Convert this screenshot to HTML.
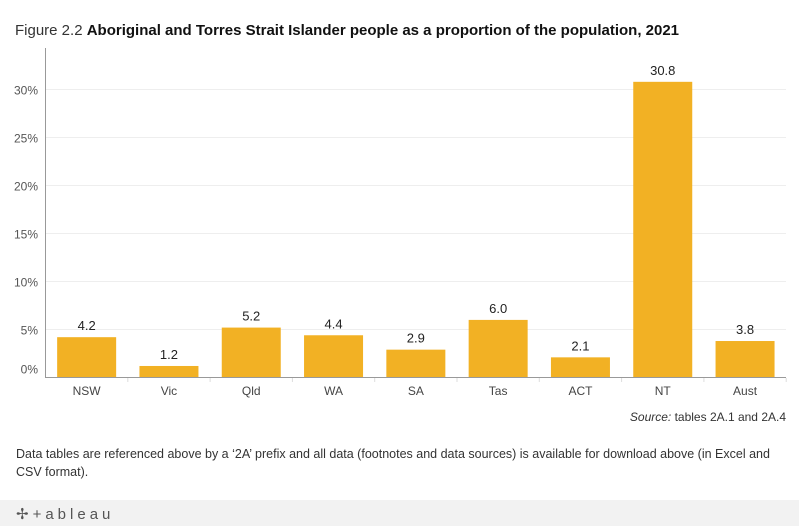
<!DOCTYPE html>
<html><head><meta charset="utf-8"><style>
body{margin:0;width:799px;height:526px;overflow:hidden;background:#fff;font-family:"Liberation Sans",sans-serif;}
svg{position:absolute;left:0;top:0}
</style></head><body>
<svg width="799" height="526">
<text x="15" y="35" font-size="15" fill="#333">Figure 2.2 <tspan fill="#111" font-weight="bold">Aboriginal and Torres Strait Islander people as a proportion of the population, 2021</tspan></text>
<g id="grid"></g>
<g id="bars"></g>
<line x1="45.5" y1="48" x2="45.5" y2="378" stroke="#999"/>
<line x1="45" y1="377.5" x2="786" y2="377.5" stroke="#999"/>
<text x="786" y="421" font-size="12" fill="#333" text-anchor="end"><tspan font-style="italic">Source:</tspan> tables 2A.1 and 2A.4</text>
<text x="16" y="458" font-size="12.5" fill="#333">Data tables are referenced above by a ‘2A’ prefix and all data (footnotes and data sources) is available for download above (in Excel and</text>
<text x="16" y="476" font-size="12.5" fill="#333">CSV format).</text>
<rect x="0" y="500" width="799" height="26" fill="#f2f2f2"/>
<text x="16" y="519" font-size="15" fill="#555" letter-spacing="4">✢+ableau</text>
</svg>
<script>
const categories=["NSW","Vic","Qld","WA","SA","Tas","ACT","NT","Aust"];
const values=[4.2,1.2,5.2,4.4,2.9,6.0,2.1,30.8,3.8];
const tickValues=[0,5,10,15,20,25,30];
const tickLabels=["0%","5%","10%","15%","20%","25%","30%"];
const NS="http://www.w3.org/2000/svg";
const y0=377.5,pxPer=9.6,x0=45.5,band=82.3,bw=59;
const yS=v=>y0-v*pxPer;
const xS=i=>x0+i*band;
const grid=document.getElementById('grid'),bars=document.getElementById('bars');
function mk(tag,attrs,parent){const e=document.createElementNS(NS,tag);for(const k in attrs)e.setAttribute(k,attrs[k]);parent.appendChild(e);return e;}
tickValues.forEach((t,i)=>{
 const y=yS(t);
 if(t>0){const l=mk('line',{x1:46,x2:786,y1:y,y2:y,stroke:'#eee'},grid);
 
 }
 const tx=mk('text',{x:38,y:(t===0?y-4:y+5),'font-size':12,fill:'#555','text-anchor':'end'},grid);
 tx.textContent=tickLabels[i];
 
 
});
categories.forEach((c,i)=>{
 const x=xS(i)+(band-bw)/2, v=values[i];
 const r=mk('rect',{x:x,y:yS(v),width:bw,height:v*pxPer,fill:'#f2b124'},bars);
 
 
 const lb=mk('text',{x:x+bw/2,y:yS(v)-7,'font-size':13,fill:'#222','text-anchor':'middle'},bars);
 lb.textContent=v.toFixed(1);
 
 
 const xl=mk('text',{x:x+bw/2,y:395,'font-size':12,fill:'#444','text-anchor':'middle'},bars);
 xl.textContent=c;
 
 
 const tk=mk('line',{x1:xS(i)+band,x2:xS(i)+band,y1:378,y2:382,stroke:'#ddd'},bars);
 
 
});
</script>
</body></html>
